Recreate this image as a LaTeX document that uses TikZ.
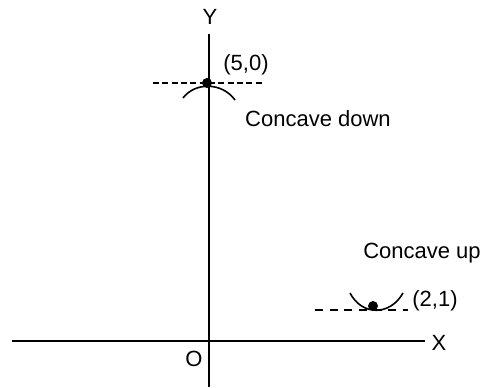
\documentclass[tikz,border=0pt]{standalone}
\usepackage{fontspec}
\setmainfont{Liberation Sans}
\usetikzlibrary{positioning}

\tikzset{
    lbl/.style={inner sep=0pt, font=\fontsize{16.5pt}{20pt}\selectfont},
    axis/.style={line width=1.5pt},
    curve/.style={line width=1.2pt},
    tangent/.style={line width=1.2pt, dash pattern=on 4.5pt off 2.5pt},
    tangentup/.style={line width=1.2pt, dash pattern=on 6pt off 5pt},
    pt/.style={circle, fill=black, inner sep=0pt, minimum size=7.5pt}
}

\begin{document}
\begin{tikzpicture}[x=0.75pt, y=-0.75pt]
    \useasboundingbox (0,0) rectangle (485,387);

    % Axes
    \coordinate (xl) at (12,341);
    \coordinate (xr) at (425,341);
    \coordinate (yt) at (209,34);
    \coordinate (yb) at (209,387);
    \draw[axis] (xl) -- (xr);
    \draw[axis] (yt) -- (yb);
    \node[lbl] (xlab) at (439,343) {X};
    \node[lbl] (ylab) at (210,17) {Y};
    \node[lbl] (orig) at (194,359) {O};

    % Maximum
    \node[pt] (pmax) at (207,83) {};
    \coordinate (dl1) at (153,83);
    \coordinate (dr1) at (263,83);
    \draw[tangent] (dl1) -- (dr1);
    \draw[curve] (183,98) .. controls (195,82) and (222,82) .. (235,100);
    \node[lbl] (maxlab) at (246,65) {(5,0)};
    \node[lbl] (down) at (318,119) {Concave down};

    % Minimum
    \node[pt] (pmin) at (373,306) {};
    \coordinate (dl2) at (315,310);
    \coordinate (dr2) at (408,310);
    \draw[tangentup] (dl2) -- (dr2);
    \draw[curve] (350,293) .. controls (362,316) and (390,316) .. (403,293);
    \node[lbl] (minlab) at (435,301) {(2,1)};
    \node[lbl] (up) at (422,253) {Concave up};
\end{tikzpicture}
\end{document}
